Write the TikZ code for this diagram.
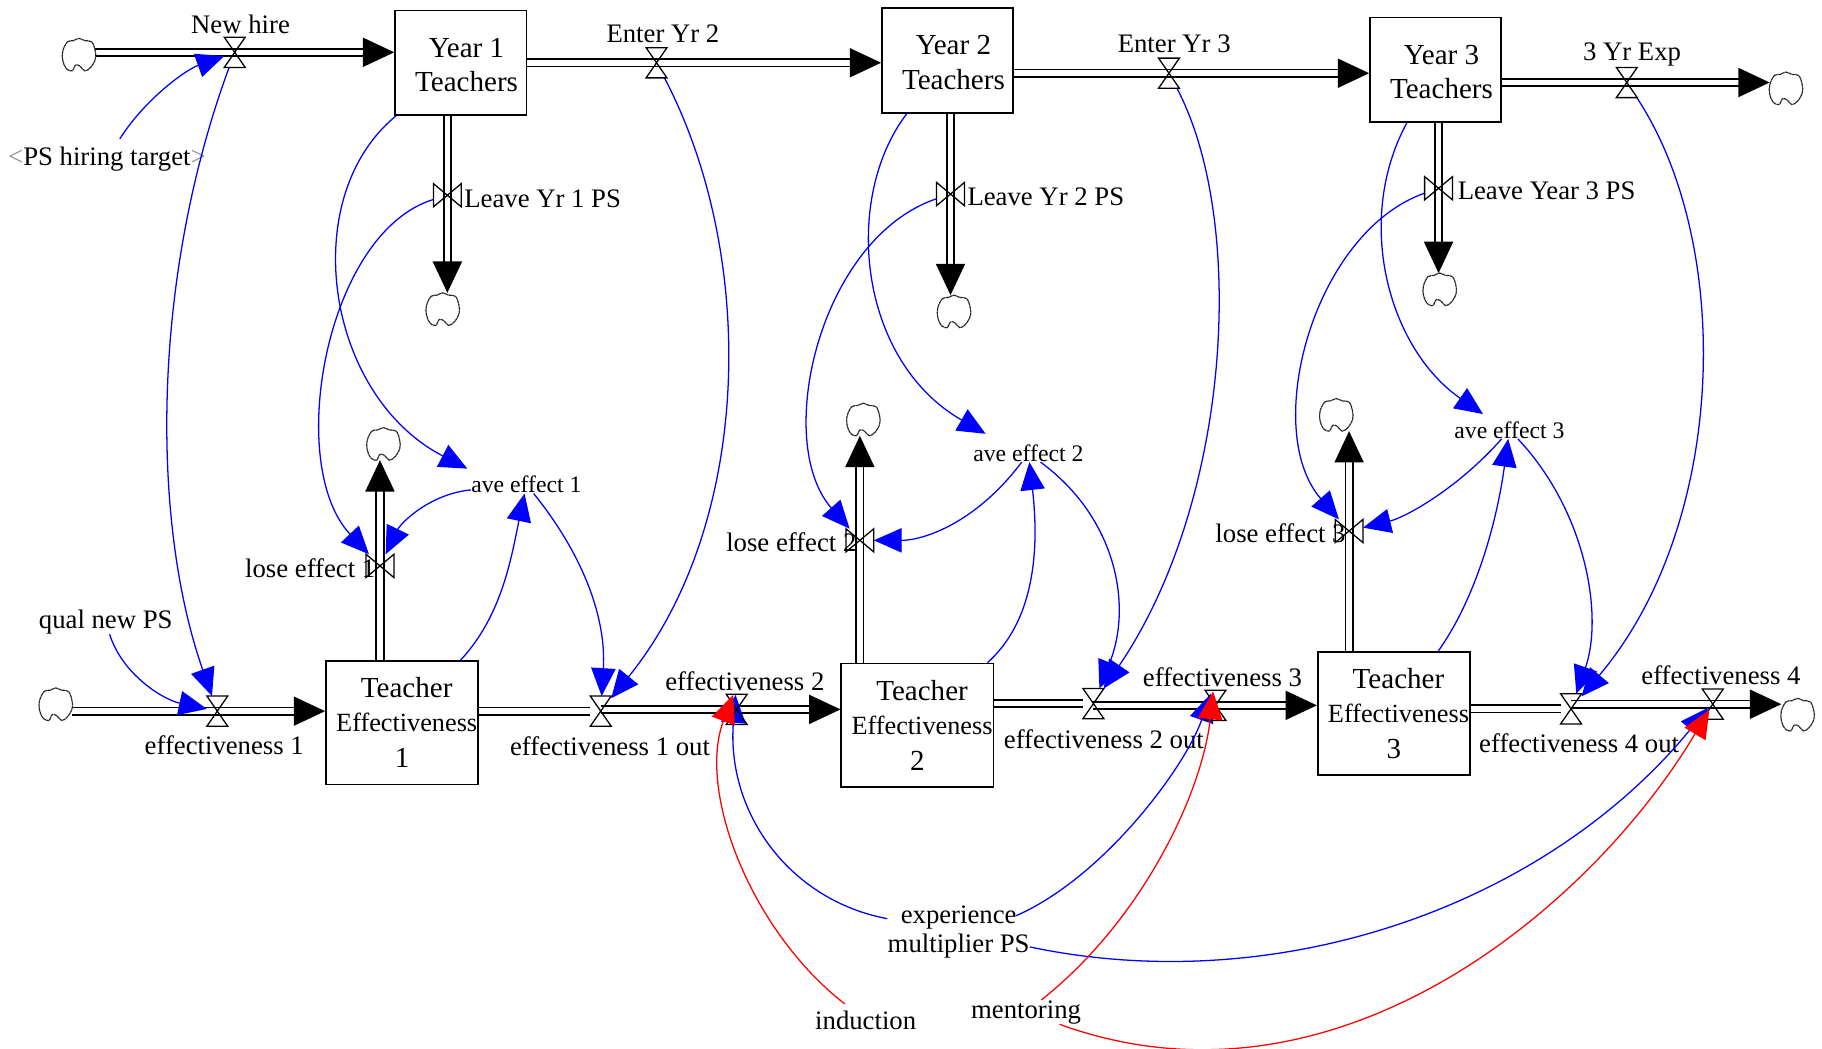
\documentclass[tikz,border=0pt]{standalone}
\usepackage{fontspec}
\setmainfont{Liberation Serif}
\usetikzlibrary{arrows.meta}
\tikzset{
  x=0.5pt,y=-0.5pt,
  stock/.style={draw,line width=0.7pt,inner sep=0pt,align=center,fill=white,
    font=\fontsize{12.5}{15}\selectfont},
  lbl/.style={inner sep=0pt,font=\fontsize{11.5}{14}\selectfont,align=center},
  smalllbl/.style={inner sep=0pt,font=\fontsize{10.2}{12}\selectfont},
  srccloud/.style={circle,inner sep=0pt,outer sep=0pt,minimum size=14pt},
  cloudline/.style={draw=black!85,fill=white,line width=0.5pt,dash pattern=on 1.4pt off 0.2pt},
  hvalve/.style={inner sep=0pt,outer sep=0pt,minimum width=9pt,minimum height=13pt},
  vvalve/.style={inner sep=0pt,outer sep=0pt,minimum width=12pt,minimum height=10pt},
  valveline/.style={draw=black,line width=0.55pt,line join=miter},
  flow/.style={double=white,line width=0.75pt,double distance=2.4pt},
  flowtip/.style={flow,-{Triangle[length=13.5pt,width=12.5pt]}},
  link/.style={draw=blue,line width=0.55pt,-{Triangle[length=12pt,width=10.5pt,fill=blue]}},
  redlink/.style={draw=red,line width=0.55pt,-{Triangle[length=12pt,width=10.5pt,fill=red]}},
}
\newcommand{\flowbar}{\textcolor{black!45}}
\newcommand{\dnline}[1]{\raisebox{-1pt}[\height][\depth]{#1}}
\newcommand{\effline}{\hspace*{4pt}\raisebox{0.5pt}[\height][\depth]{\fontsize{11.3}{15}\selectfont Effectiveness}}
\begin{document}
\begin{tikzpicture}
\useasboundingbox (0,0) rectangle (1568,902);
\clip (0,0) rectangle (1568,902);
% ---- valves
\foreach \n/\x/\y in {vnh/202/45,vey2/565/54,vey3/1006/63,vex/1400/71,ve1/187/612,ve1o/517/612,ve2/634/610.5,ve2o/941/605.5,ve3/1046/607,ve4o/1352/610,ve4/1474/606}
  \node[hvalve] (\n) at (\x,\y) {};
\foreach \n/\x/\y in {vl1/385/168,vl2/818/167,vl3/1238/162,vle1/327/487,vle2/740/465,vle3/1161/457}
  \node[vvalve] (\n) at (\x,\y) {};
% ---- stocks
\node[stock,minimum width=56.5pt,minimum height=45pt] (y1) at (396.5,54) {\hspace*{5pt}\dnline{Year 1}\\\hspace*{5pt}\dnline{Teachers}};
\node[stock,minimum width=56.5pt,minimum height=45pt] (y2) at (815.5,52) {\hspace*{5pt}\dnline{Year 2}\\\hspace*{5pt}\dnline{Teachers}};
\node[stock,minimum width=56.5pt,minimum height=45pt] (y3) at (1235.5,60) {\hspace*{5pt}\dnline{Year 3}\\\hspace*{5pt}\dnline{Teachers}};
\node[stock,minimum width=65.5pt,minimum height=53pt] (te1) at (346,622) {\hspace*{4pt}Teacher\\\effline\\1};
\node[stock,minimum width=65.5pt,minimum height=53pt] (te2) at (789.5,624) {\hspace*{4pt}Teacher\\\effline\\2};
\node[stock,minimum width=65.5pt,minimum height=53pt] (te3) at (1199.5,614) {\hspace*{4pt}Teacher\\\effline\\3};
% ---- clouds
\foreach \n/\x/\y in {c1/68/47,c2/1537/76,c3/381/266,c4/821/268,c5/1239/249,c6/330/382,c7/743/361,c8/1150/357,c9/48/606,c10/1547/615}
  \node[srccloud] (\n) at (\x,\y) {};
% ---- labels
\node[lbl] (lnh) at (207,21) {New hire};
\node[lbl] (ley2) at (570.5,29) {Enter Yr 2};
\node[lbl] (ley3) at (1010.5,38) {Enter Yr 3};
\node[lbl] (lex) at (1404.5,47) {3 Yr Exp};
\node[lbl] (ll1) at (467,171) {Leave Yr 1 PS};
\node[lbl] (ll2) at (900,169) {Leave Yr 2 PS};
\node[lbl] (ll3) at (1331,164) {Leave Year 3 PS};
\node[lbl,outer sep=3.5pt] (target) at (92,137) {\flowbar{<}PS hiring target\flowbar{>}};
\node[lbl] (qual) at (91,535) {qual new PS};
\node[lbl] (le1) at (193,641) {effectiveness 1};
\node[lbl] (le1o) at (525,642) {effectiveness 1 out};
\node[lbl] (le2) at (641,586) {effectiveness 2};
\node[lbl] (le2o) at (950,636) {effectiveness 2 out};
\node[lbl] (le3) at (1052,583) {effectiveness 3};
\node[lbl] (le4o) at (1359,640) {effectiveness 4 out};
\node[lbl] (le4) at (1481,581) {effectiveness 4};
\node[lbl,outer sep=3pt] (ind) at (745,878) {induction};
\node[lbl] (men) at (883,871) {mentoring};
\node[lbl,font=\fontsize{11.5}{12.5}\selectfont] (exper) at (825,802) {experience\\multiplier PS};
\node[smalllbl] (ave1) at (453,417) {ave effect 1};
\node[smalllbl] (ave2) at (885,390) {ave effect 2};
\node[smalllbl] (ave3) at (1299,370) {ave effect 3};
\node[lbl] (ls1) at (267,489) {lose effect 1};
\node[lbl] (ls2) at (681,467) {lose effect 2};
\node[lbl] (ls3) at (1102,459) {lose effect 3};
% ---- named tips inside the crowded valves
\coordinate (tb2) at (633,598);
\coordinate (tr2) at (631,598);
\coordinate (tb3) at (1042,597);
\coordinate (tr3) at (1044,595);
\coordinate (tb4) at (1470,609);
\coordinate (tr4) at (1471,611);
% ---- flows
\draw[flowtip] (vnh -| c1.east) -- (vnh -| y1.west);
\draw[flowtip] (vey2 -| y1.east) -- (vey2 -| y2.west);
\draw[flowtip] (vey3 -| y2.east) -- (vey3 -| y3.west);
\draw[flowtip] (vex -| y3.east) -- (vex -| c2.west);
\draw[flowtip] (vl1 |- y1.south) -- (vl1 |- c3.north);
\draw[flowtip] (vl2 |- y2.south) -- (vl2 |- c4.north);
\draw[flowtip] (vl3 |- y3.south) -- (vl3 |- c5.north);
\draw[flowtip] (vle1 |- te1.north) -- (vle1 |- c6.south);
\draw[flowtip] (vle2 |- te2.north) -- (vle2 |- c7.south);
\draw[flowtip] (vle3 |- te3.north) -- (vle3 |- c8.south);
\draw[flowtip] (ve1 -| c9.east) -- (ve1 -| te1.west);
\draw[flow] (ve1o -| te1.east) -- (ve1o);
\draw[flowtip] (ve1o |- ve2) -- (ve2 -| te2.west);
\draw[flow] (ve2o -| te2.east) -- (ve2o);
\draw[flowtip] (ve2o |- ve3) -- (ve3 -| te3.west);
\draw[flow] (ve4o -| te3.east) -- (ve4o);
\draw[flowtip] (ve4o |- ve4) -- (ve4 -| c10.west);
% ---- cloud outlines
\foreach \n in {c1,c2,c3,c4,c5,c6,c7,c8,c9,c10}
  \draw[cloudline,shift={(\n)}] plot[smooth cycle,tension=0.6] coordinates {(-14,-3) (-10,-11) (-5,-12) (0,-14) (5,-12) (11,-11) (14,-3) (14,4) (10,11) (5,14) (1,10) (-3,9) (-6,14) (-11,12) (-14,5)};
% ---- blue links
\draw[link] (target) .. controls (125,85) and (160,60) .. (vnh);
\draw[link] (vnh) .. controls (130,240) and (130,450) .. (ve1);
\draw[link] (qual) .. controls (105,580) and (140,602) .. (ve1);
\draw[link] (y1) .. controls (255,170) and (280,340) .. ([xshift=-1.5pt,yshift=3pt]ave1.north west);
\draw[link] (vl1) .. controls (280,200) and (245,400) .. (vle1);
\draw[link] (ave1) .. controls (370,425) and (345,450) .. (vle1);
\draw[link] (te1) .. controls (432,530) and (440,480) .. (ave1);
\draw[link] (ave1) .. controls (500,475) and (522,530) .. (ve1o);
\draw[link] (vey2) .. controls (652,220) and (648,450) .. (ve1o);
\draw[link] (y2) .. controls (725,170) and (738,310) .. ([xshift=5.5pt,yshift=4.5pt]ave2.north west);
\draw[link] (vl2) .. controls (705,205) and (665,380) .. (vle2);
\draw[link] (ave2) .. controls (840,450) and (795,465) .. (vle2);
\draw[link] (te2) .. controls (895,530) and (893,460) .. (ave2);
\draw[link] (ave2) .. controls (960,445) and (975,520) .. (ve2o);
\draw[link] (vey3) .. controls (1073,190) and (1060,430) .. (ve2o);
\draw[link] (y3) .. controls (1165,190) and (1195,300) .. ([xshift=12.5pt,yshift=3pt]ave3.north west);
\draw[link] (vl3) .. controls (1130,200) and (1085,370) .. (vle3);
\draw[link] (ave3) .. controls (1255,420) and (1210,445) .. (vle3);
\draw[link] (te3) .. controls (1270,515) and (1288,450) .. (ave3);
\draw[link] (ave3) .. controls (1365,440) and (1380,530) .. (ve4o);
\draw[link] (vex) .. controls (1492,210) and (1487,450) .. (ve4o);
\draw[link] (exper) .. controls (680,775) and (625,700) .. (tb2);
\draw[link] ([xshift=-6pt,yshift=-4.5pt]exper.north east) .. controls (950,755) and (1020,660) .. (tb3);
\draw[link] (exper) .. controls (1100,860) and (1330,780) .. (tb4);
% ---- valve outlines
\foreach \n in {vnh,vey2,vey3,vex,ve1,ve1o,ve2,ve2o,ve3,ve4o,ve4}
  \draw[valveline] (\n.north west) -- (\n.south east) -- (\n.south west) -- (\n.north east) -- cycle;
\foreach \n in {vl1,vl2,vl3,vle1,vle2,vle3}
  \draw[valveline] (\n.north west) -- (\n.south east) -- (\n.north east) -- (\n.south west) -- cycle;
% ---- red links
\draw[redlink] (ind) .. controls (645,800) and (600,680) .. (tr2);
\draw[redlink] (men) .. controls (985,790) and (1035,680) .. (tr3);
\draw[redlink] (men) .. controls (1150,968) and (1370,780) .. (tr4);
\end{tikzpicture}
\end{document}
